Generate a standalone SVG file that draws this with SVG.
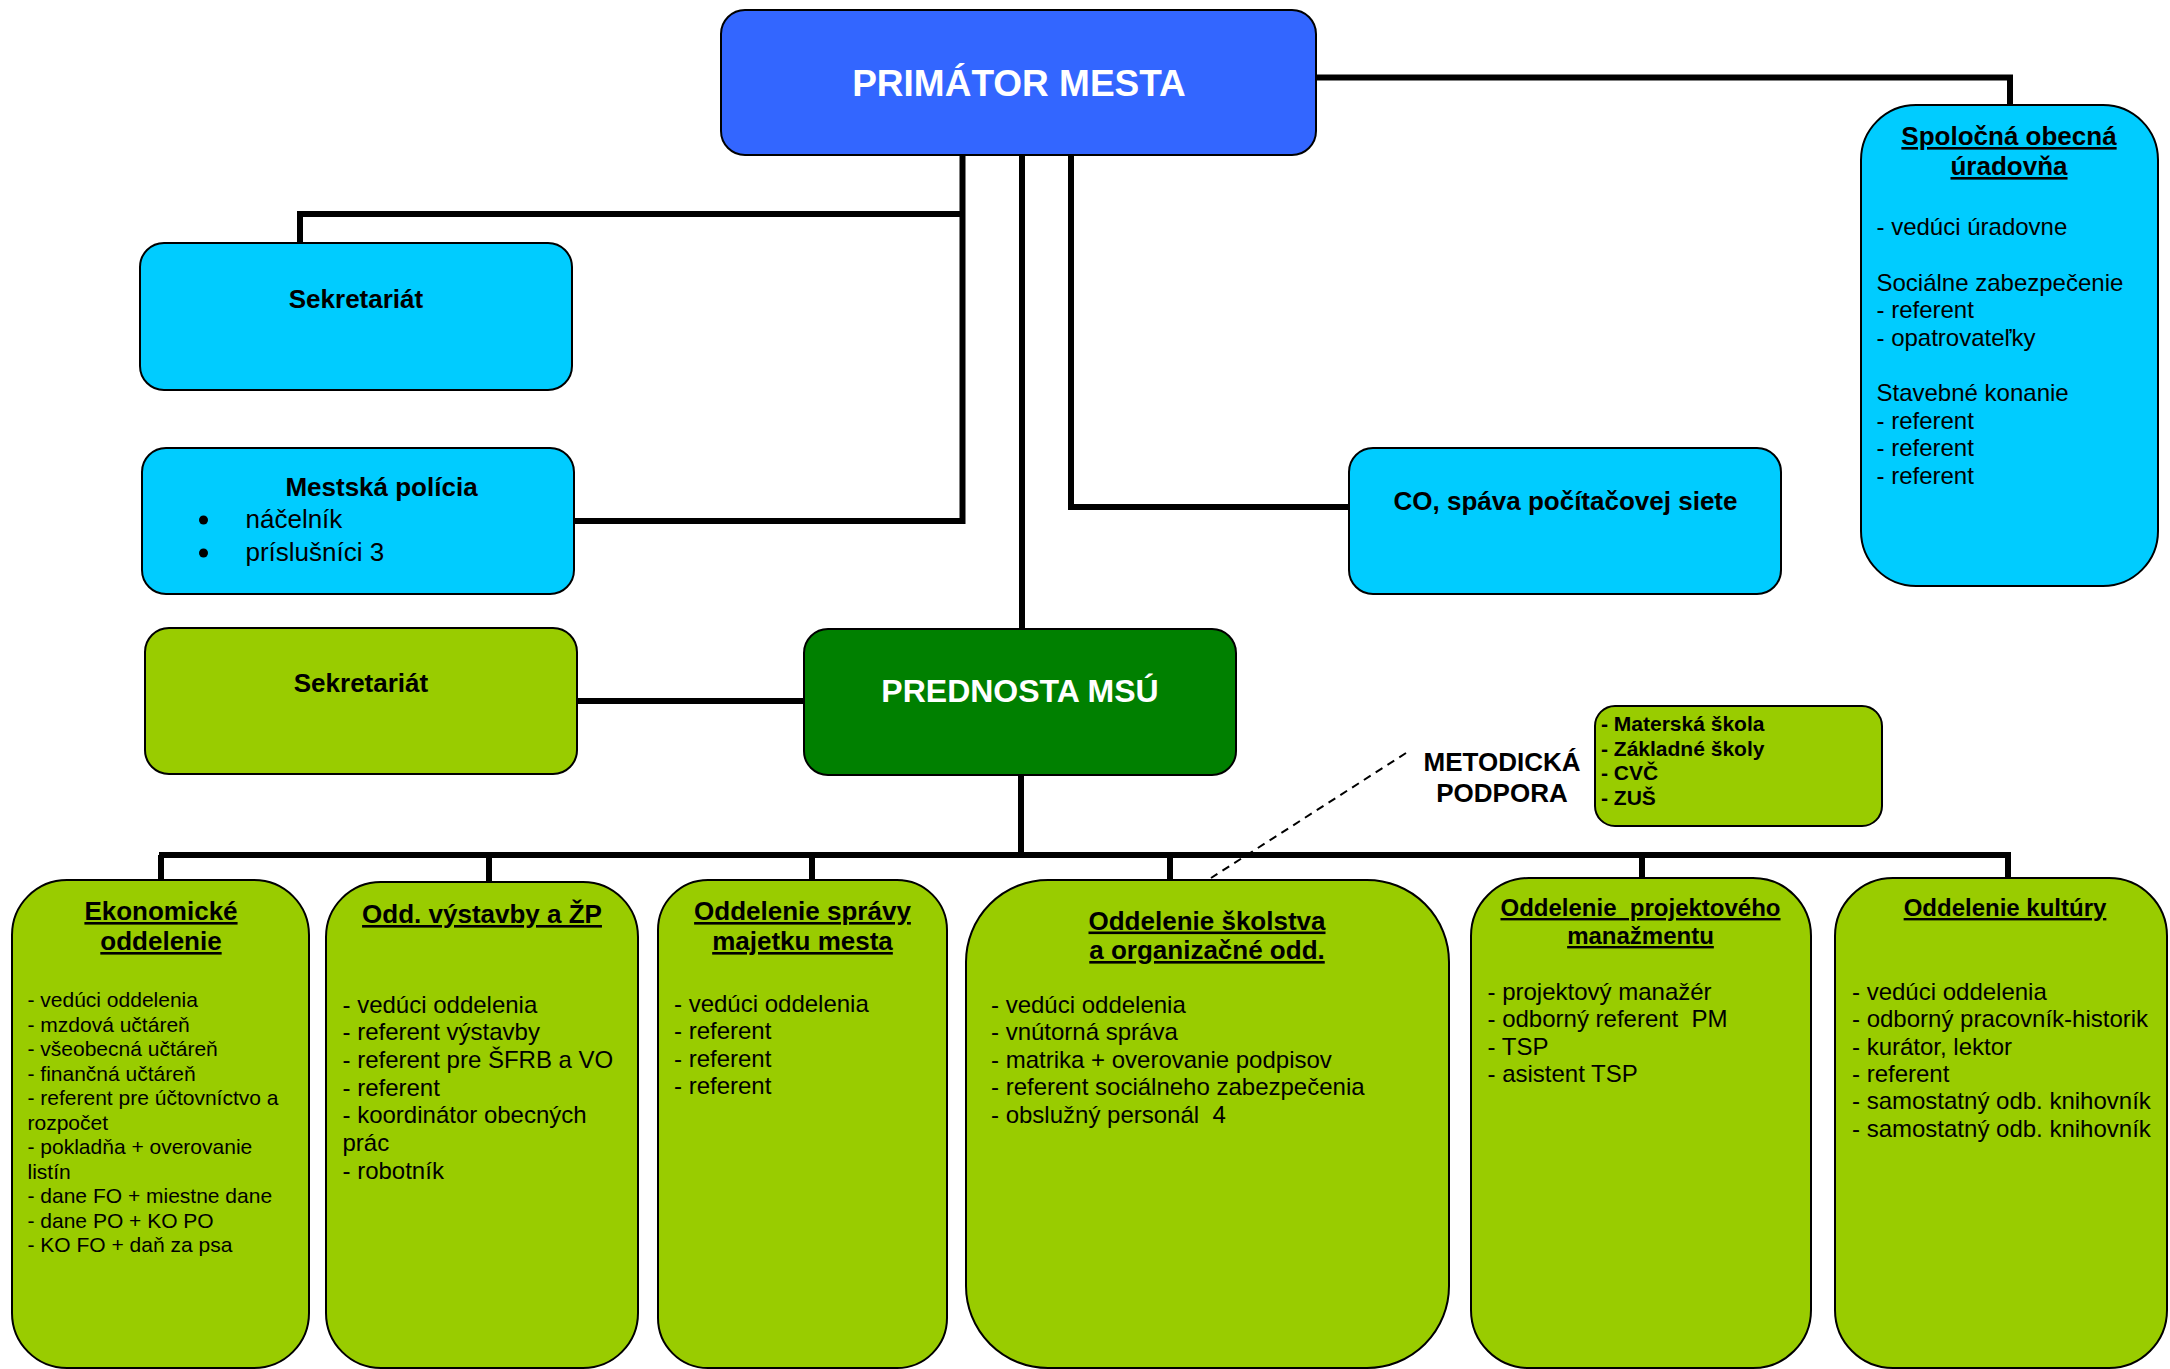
<svg xmlns="http://www.w3.org/2000/svg" width="2170" height="1369" viewBox="0 0 2170 1369">
<style>
text{font-family:"Liberation Sans",Arial,sans-serif;fill:#000}
.box{stroke:#000;stroke-width:2}
.blue{fill:#3366FF}
.cyan{fill:#00CCFF}
.lg{fill:#99CC00}
.dg{fill:#008000}
.conn{fill:none;stroke:#000;stroke-width:6;stroke-linejoin:miter;stroke-linecap:butt}
.b26{font-size:26px;font-weight:bold}
.b24{font-size:24px;font-weight:bold}
.t24{font-size:24px}
.t21{font-size:21px}
.t26{font-size:26px}
.u{text-decoration:underline}
.c{text-anchor:middle}
.w{fill:#fff;font-weight:bold}
</style>
<rect width="2170" height="1369" fill="#fff"/>
<g id="connectors">
<path class="conn" d="M1316,77.5 H2010 V105"/>
<path class="conn" d="M962.5,156 V524 M965.5,214 H300 V243 M574,521 H965.5"/>
<path class="conn" stroke-width="5" d="M1022,156 V629"/>
<path class="conn" stroke-width="5" d="M1071,156 V507 H1349"/>
<path class="conn" stroke-width="5" d="M577,701 H804"/>
<path class="conn" stroke-width="7" d="M1021,775 V855"/>
<path class="conn" d="M159,855 H2011 M161,855 V880 M489,855 V882 M812,855 V880 M1170,855 V880 M2008,855 V878"/>
<path class="conn" stroke-width="8" d="M1017,855 H1646 M1642,855 V878"/>
<path fill="none" stroke="#000" stroke-width="2" stroke-dasharray="8 6" d="M1406,753 L1211,878"/>
</g>
<g id="primator">
<rect class="box blue" x="721" y="10" width="595" height="145" rx="24"/>
<text class="w c" x="1019" y="96" font-size="37">PRIMÁTOR MESTA</text>
</g>
<g id="sekretariat1">
<rect class="box cyan" x="140" y="243" width="432" height="147" rx="24"/>
<text class="b26 c" x="356" y="308">Sekretariát</text>
</g>
<g id="policia">
<rect class="box cyan" x="142" y="448" width="432" height="146" rx="24"/>
<text class="b26 c" x="381.5" y="496">Mestská polícia</text>
<circle cx="203.5" cy="520" r="4.5"/>
<circle cx="203.5" cy="553" r="4.5"/>
<text class="t26" x="245.5" y="528">náčelník</text>
<text class="t26" x="245.5" y="561">príslušníci 3</text>
</g>
<g id="co">
<rect class="box cyan" x="1349" y="448" width="432" height="146" rx="24"/>
<text class="b26 c" x="1565.5" y="510">CO, spáva počítačovej siete</text>
</g>
<g id="uradovna">
<rect class="box cyan" x="1861" y="105" width="297" height="481" rx="55"/>
<text class="b26 c u" x="2009" y="145">Spoločná obecná</text>
<text class="b26 c u" x="2009" y="175">úradovňa</text>
<text class="t24" x="1876.5">
<tspan x="1876.5" y="234.6">- vedúci úradovne</tspan>
<tspan x="1876.5" y="290.5">Sociálne zabezpečenie</tspan>
<tspan x="1876.5" y="318">- referent</tspan>
<tspan x="1876.5" y="345.6">- opatrovateľky</tspan>
<tspan x="1876.5" y="401">Stavebné konanie</tspan>
<tspan x="1876.5" y="428.6">- referent</tspan>
<tspan x="1876.5" y="456">- referent</tspan>
<tspan x="1876.5" y="483.6">- referent</tspan>
</text>
</g>
<g id="sekretariat2">
<rect class="box lg" x="145" y="628" width="432" height="146" rx="24"/>
<text class="b26 c" x="361" y="692">Sekretariát</text>
</g>
<g id="prednosta">
<rect class="box dg" x="804" y="629" width="432" height="146" rx="24"/>
<text class="w c" x="1020" y="702" font-size="32">PREDNOSTA MSÚ</text>
</g>
<g id="metodicka">
<text class="c" x="1502" y="770.5" font-size="26" font-weight="bold">METODICKÁ</text>
<text class="c" x="1502" y="801.5" font-size="26" font-weight="bold">PODPORA</text>
<rect class="box lg" x="1595" y="706" width="287" height="120" rx="20"/>
<text font-size="21" font-weight="bold">
<tspan x="1601" y="731">- Materská škola</tspan>
<tspan x="1601" y="755.5">- Základné školy</tspan>
<tspan x="1601" y="780">- CVČ</tspan>
<tspan x="1601" y="804.5">- ZUŠ</tspan>
</text>
</g>
<g id="ekonomicke">
<rect class="box lg" x="12" y="880" width="297" height="488" rx="55"/>
<text class="b26 c u" x="161" y="920">Ekonomické</text>
<text class="b26 c u" x="161" y="950">oddelenie</text>
<text class="t21">
<tspan x="27.5" y="1007">- vedúci oddelenia</tspan>
<tspan x="27.5" y="1031.5">- mzdová učtáreň</tspan>
<tspan x="27.5" y="1056">- všeobecná učtáreň</tspan>
<tspan x="27.5" y="1080.5">- finančná učtáreň</tspan>
<tspan x="27.5" y="1105">- referent pre účtovníctvo a</tspan>
<tspan x="27.5" y="1129.5">rozpočet</tspan>
<tspan x="27.5" y="1154">- pokladňa + overovanie</tspan>
<tspan x="27.5" y="1178.5">listín</tspan>
<tspan x="27.5" y="1203">- dane FO + miestne dane</tspan>
<tspan x="27.5" y="1227.5">- dane PO + KO PO</tspan>
<tspan x="27.5" y="1252">- KO FO + daň za psa</tspan>
</text>
</g>
<g id="vystavby">
<rect class="box lg" x="326" y="882" width="312" height="486" rx="55"/>
<text class="b26 c u" x="482" y="923">Odd. výstavby a ŽP</text>
<text class="t24">
<tspan x="342.5" y="1012.6">- vedúci oddelenia</tspan>
<tspan x="342.5" y="1040.3">- referent výstavby</tspan>
<tspan x="342.5" y="1068">- referent pre ŠFRB a VO</tspan>
<tspan x="342.5" y="1095.7">- referent</tspan>
<tspan x="342.5" y="1123.4">- koordinátor obecných</tspan>
<tspan x="342.5" y="1151.1">prác</tspan>
<tspan x="342.5" y="1178.8">- robotník</tspan>
</text>
</g>
<g id="spravy">
<rect class="box lg" x="658" y="880" width="289" height="488" rx="50"/>
<text class="b26 c u" x="802.5" y="920">Oddelenie správy</text>
<text class="b26 c u" x="802.5" y="950">majetku mesta</text>
<text class="t24">
<tspan x="674" y="1011.7">- vedúci oddelenia</tspan>
<tspan x="674" y="1039.2">- referent</tspan>
<tspan x="674" y="1066.7">- referent</tspan>
<tspan x="674" y="1094.2">- referent</tspan>
</text>
</g>
<g id="skolstva">
<rect class="box lg" x="966" y="880" width="483" height="488" rx="82"/>
<text class="b26 c u" x="1207" y="929.5">Oddelenie školstva</text>
<text class="b26 c u" x="1207" y="959">a organizačné odd.</text>
<text class="t24" xml:space="preserve">
<tspan x="991" y="1012.6">- vedúci oddelenia</tspan>
<tspan x="991" y="1040.2">- vnútorná správa</tspan>
<tspan x="991" y="1067.8">- matrika + overovanie podpisov</tspan>
<tspan x="991" y="1095.4">- referent sociálneho zabezpečenia</tspan>
<tspan x="991" y="1123">- obslužný personál  4</tspan>
</text>
</g>
<g id="projektoveho">
<rect class="box lg" x="1471" y="878" width="340" height="490" rx="58"/>
<text class="b24 c u" x="1640.5" y="916" xml:space="preserve">Oddelenie  projektového</text>
<text class="b24 c u" x="1640.5" y="944">manažmentu</text>
<text class="t24" xml:space="preserve">
<tspan x="1487.5" y="999.8">- projektový manažér</tspan>
<tspan x="1487.5" y="1027.2">- odborný referent  PM</tspan>
<tspan x="1487.5" y="1054.6">- TSP</tspan>
<tspan x="1487.5" y="1082">- asistent TSP</tspan>
</text>
</g>
<g id="kultury">
<rect class="box lg" x="1835" y="878" width="332" height="490" rx="58"/>
<text class="b24 c u" x="2005" y="916">Oddelenie kultúry</text>
<text class="t24">
<tspan x="1852" y="999.8">- vedúci oddelenia</tspan>
<tspan x="1852" y="1027.2">- odborný pracovník-historik</tspan>
<tspan x="1852" y="1054.6">- kurátor, lektor</tspan>
<tspan x="1852" y="1082">- referent</tspan>
<tspan x="1852" y="1109.4">- samostatný odb. knihovník</tspan>
<tspan x="1852" y="1136.8">- samostatný odb. knihovník</tspan>
</text>
</g>
</svg>
